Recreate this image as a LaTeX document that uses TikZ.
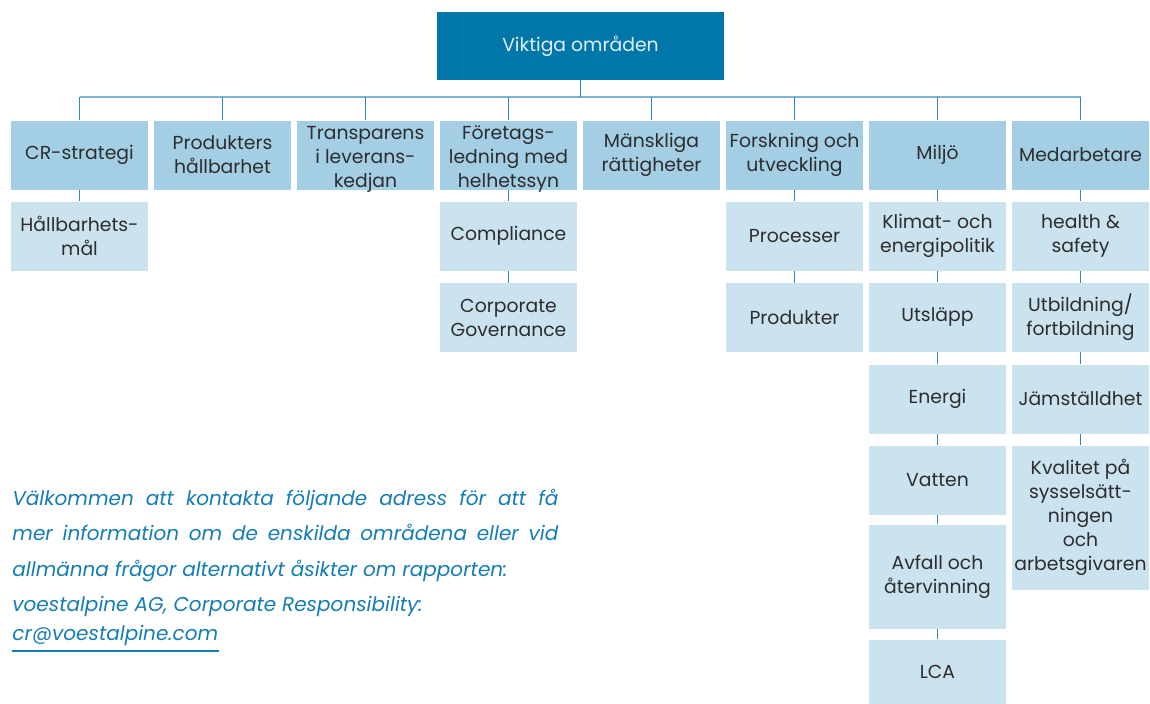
\documentclass[tikz,border=0pt]{standalone}
\usepackage{fontspec}
\setmainfont{Poppins}
\usetikzlibrary{positioning}

\definecolor{topblue}{RGB}{0,119,168}
\definecolor{catblue}{RGB}{163,206,228}
\definecolor{subblue}{RGB}{203,226,239}
\definecolor{linkblue}{RGB}{40,136,186}
\definecolor{busblue}{RGB}{122,182,212}
\definecolor{boxtext}{RGB}{45,45,45}
\definecolor{infoblue}{RGB}{20,125,180}

\tikzset{
  box/.style={inner sep=0pt, minimum width=68.5pt, minimum height=34.5pt,
    align=center, text=boxtext, font=\fontsize{9.4}{12}\selectfont},
  topbox/.style={box, fill=topblue, text=white!88!topblue,
    minimum width=143.5pt, minimum height=34pt},
  catbox/.style={box, fill=catblue},
  subbox/.style={box, fill=subblue},
  threeline/.style={text height=32.5pt, text depth=0pt},
  link/.style={draw=linkblue, line width=0.5pt},
  busline/.style={draw=busblue, line width=1pt}
}

\begin{document}
\begin{tikzpicture}[x=0.5pt,y=-0.5pt]
      \useasboundingbox (0,0) rectangle (1150,703);
      % top of the tree
      \node[topbox] (top) at (580.5,46) {Viktiga områden};
      % main areas
      \node[catbox] (cr) at (79.5,155) {CR-strategi};
      \node[catbox] (prodsust) at (222.5,155) {Produkters\\hållbarhet};
      \node[catbox, threeline] (transp) at (365.5,155) {Transparens\\i leverans-\\kedjan};
      \node[catbox, threeline] (mgmt) at (508.5,155) {Företags-\\ledning med\\helhetssyn};
      \node[catbox] (rights) at (651.5,155) {Mänskliga\\rättigheter};
      \node[catbox] (rnd) at (794.5,155) {Forskning och\\utveckling};
      \node[catbox] (env) at (937.5,155) {Miljö};
      \node[catbox] (staff) at (1080.5,155) {Medarbetare};
      % sub areas
      \node[subbox] (crgoal) at (79.5,236) {Hållbarhets-\\mål};
      \node[subbox] (comp) at (508.5,236) {Compliance};
      \node[subbox] (gov) at (508.5,317.5) {Corporate\\Governance};
      \node[subbox] (proc) at (794.5,236) {Processer};
      \node[subbox] (prod) at (794.5,317.5) {Produkter};
      \node[subbox] (climate) at (937.5,236) {Klimat- och\\energipolitik};
      \node[subbox] (emis) at (937.5,317) {Utsläpp};
      \node[subbox] (energy) at (937.5,399) {Energi};
      \node[subbox] (water) at (937.5,480) {Vatten};
      \node[subbox, minimum height=52pt] (waste) at (937.5,576.5) {Avfall och\\återvinning};
      \node[subbox, minimum height=32pt] (lca) at (937.5,671.5) {LCA};
      \node[subbox] (health) at (1080.5,236) {health \&\\safety};
      \node[subbox] (edu) at (1080.5,317.5) {Utbildning/\\fortbildning};
      \node[subbox] (equal) at (1080.5,399) {Jämställdhet};
      \node[subbox, minimum height=72pt] (quality) at (1080.5,517.5) {Kvalitet på\\sysselsätt-\\ningen\\och\\arbetsgivaren};
      % connectors
      \coordinate (bus) at (580.5,96.5);
      \draw[busline] (cr.north |- bus) -- (staff.north |- bus);
      \draw[link] (top.south) -- (bus);
      \foreach \c in {cr,prodsust,transp,mgmt,rights,rnd,env,staff}
        \draw[link] (\c.north) -- (\c.north |- bus);
      \foreach \a/\b in {cr/crgoal,mgmt/comp,comp/gov,rnd/proc,proc/prod,
          env/climate,climate/emis,emis/energy,energy/water,water/waste,waste/lca,
          staff/health,health/edu,edu/equal,equal/quality}
        \draw[link] (\a.south) -- (\b.north);
      % contact text
      \node[anchor=north west, inner sep=0pt, text width=273pt, align=justify,
        text=infoblue, font=\fontsize{10}{17.6}\selectfont\itshape] (info) at (12,489)
        {Välkommen att kontakta följande adress för att få\linebreak
         mer information om de enskilda områdena eller vid\linebreak
         allmänna frågor alternativt åsikter om rapporten:\\
         voestalpine AG, Corporate Responsibility:};
      \node[anchor=north west, inner sep=0pt, text=infoblue,
        font=\fontsize{10}{17}\selectfont\itshape] (mail) at (12,625) {cr@voestalpine.com};
      \draw[infoblue, line width=0.8pt] ([yshift=-2.5pt]mail.south west) -- ([yshift=-2.5pt]mail.south east);
    \end{tikzpicture}
\end{document}
